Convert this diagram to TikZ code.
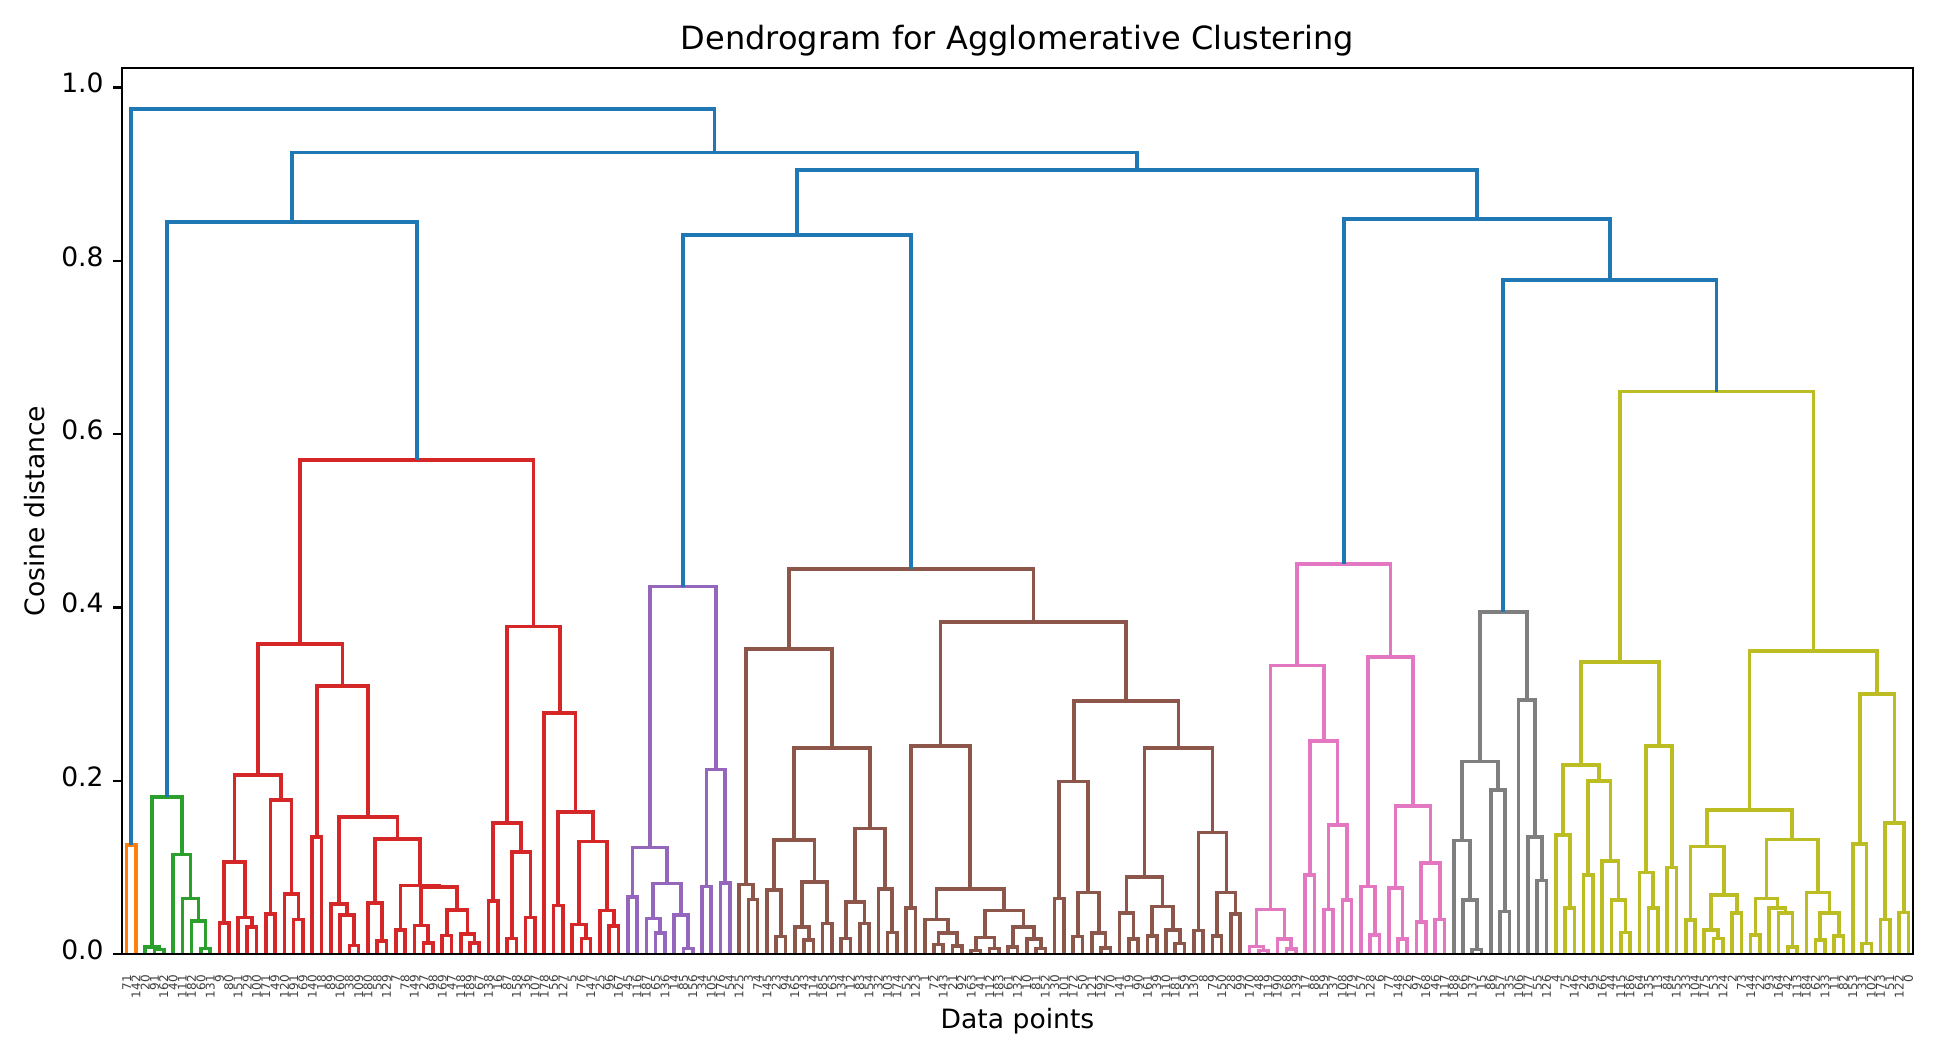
\documentclass[tikz,border=0pt]{standalone}
\usepackage{fontspec}
\setmainfont{DejaVu Sans}
\usepackage{tikz}
\definecolor{c0}{HTML}{1F77B4}
\definecolor{c1}{HTML}{FF7F0E}
\definecolor{c2}{HTML}{2CA02C}
\definecolor{c3}{HTML}{D62728}
\definecolor{c4}{HTML}{9467BD}
\definecolor{c5}{HTML}{8C564B}
\definecolor{c6}{HTML}{E377C2}
\definecolor{c7}{HTML}{7F7F7F}
\definecolor{c8}{HTML}{BCBD22}

% stack of open subtrees: x position (leaf units) and height
\newcount\stk
\newcount\nleaf
\newcommand\Lf{%
  \global\advance\nleaf by 1
  \global\advance\stk by 1
  \pgfmathsetmacro\tmpx{\the\nleaf-0.5}%
  \expandafter\xdef\csname dx\the\stk\endcsname{\tmpx}%
  \expandafter\xdef\csname dh\the\stk\endcsname{0}}
\newcommand\Mg[1]{%
  \edef\dxa{\csname dx\the\numexpr\stk-1\relax\endcsname}%
  \edef\dha{\csname dh\the\numexpr\stk-1\relax\endcsname}%
  \edef\dxb{\csname dx\the\stk\endcsname}%
  \edef\dhb{\csname dh\the\stk\endcsname}%
  \draw[link, color=\cc] (\dxa,\dha) |- (\dxb,#1) -- (\dxb,\dhb);
  \pgfmathsetmacro\tmpx{(\dxa+\dxb)/2}%
  \global\advance\stk by -1
  \expandafter\xdef\csname dx\the\stk\endcsname{\tmpx}%
  \expandafter\xdef\csname dh\the\stk\endcsname{#1}}

\begin{document}
\begin{tikzpicture}[x=0.5pt, y=0.5pt,
    link/.style={line width=1.8pt, line join=miter},
    spine/.style={line width=1.1pt, black},
    ticklab/.style={font=\fontsize{13.3}{16}\selectfont, anchor=mid east, inner sep=0pt},
    leaflab/.style={font=\fontsize{6}{7}\selectfont, rotate=90, anchor=east, inner sep=0pt, black!75}
]
    \fill[white] (0,0) rectangle (1948,1040);
    \useasboundingbox (0,0) rectangle (1948,1040);

    \begin{scope}[xshift=61pt, yshift=43pt, x=4.64pt, y=433.25pt]
    % orange
    \def\cc{c1}
    \Lf\Lf\Mg{.126}
    % green
    \def\cc{c2}
    \Lf \Lf\Lf\Mg{.005}\Mg{.008}
    \Lf \Lf \Lf \Lf\Lf\Mg{.0065}\Mg{.038}\Mg{.064}\Mg{.115}
    \Mg{.1815}
    % red
    \def\cc{c3}
    \Lf\Lf\Mg{.036} \Lf\Lf\Lf\Mg{.031}\Mg{.042} \Mg{.1065}
    \Lf\Lf\Mg{.046} \Lf\Lf\Lf\Mg{.04}\Mg{.069} \Mg{.178}
    \Mg{.2065}
    \Lf\Lf\Mg{.135}
    \Lf\Lf\Lf\Lf\Mg{.01}\Mg{.045}\Mg{.058}
    \Lf\Lf\Lf\Mg{.015}\Mg{.059}
    \Lf\Lf\Mg{.028} \Lf\Lf\Lf\Mg{.013}\Mg{.033} \Lf\Lf\Mg{.0215} \Lf\Lf\Lf\Mg{.013}\Mg{.023} \Mg{.051} \Mg{.077} \Mg{.079}
    \Mg{.133} \Mg{.158} \Mg{.309} \Mg{.358}
    \Lf\Lf\Mg{.061} \Lf\Lf\Mg{.018} \Lf\Lf\Mg{.042} \Mg{.118} \Mg{.151}
    \Lf
    \Lf\Lf\Mg{.056} \Lf\Lf\Lf\Mg{.018}\Mg{.034} \Lf\Lf\Lf\Mg{.032}\Mg{.05} \Mg{.13} \Mg{.164}
    \Mg{.278} \Mg{.378}
    \Mg{.57}
    \def\cc{c0}
    \Mg{.845}
    % purple
    \def\cc{c4}
    \Lf\Lf\Mg{.066} \Lf\Lf\Lf\Mg{.024}\Mg{.041} \Lf\Lf\Lf\Mg{.0065}\Mg{.045} \Mg{.0815} \Mg{.123}
    \Lf\Lf\Mg{.078} \Lf\Lf\Mg{.082} \Mg{.213}
    \Mg{.424}
    % brown
    \def\cc{c5}
    \Lf\Lf\Lf\Mg{.063}\Mg{.08}
    \Lf\Lf\Lf\Mg{.02}\Mg{.074} \Lf\Lf\Lf\Mg{.016}\Mg{.0315} \Lf\Lf\Mg{.035} \Mg{.083} \Mg{.1315}
    \Lf\Lf\Mg{.018} \Lf\Lf\Mg{.035} \Mg{.06} \Lf\Lf\Lf\Mg{.025}\Mg{.075} \Mg{.145}
    \Mg{.238} \Mg{.352}
    \Lf\Lf\Mg{.053}
    \Lf \Lf\Lf\Mg{.011} \Lf\Lf\Mg{.009} \Mg{.024} \Mg{.04}
    \Lf\Lf\Mg{.004} \Lf\Lf\Mg{.0065} \Mg{.019} \Lf\Lf\Mg{.008} \Lf\Lf\Lf\Mg{.0065}\Mg{.017} \Mg{.031} \Mg{.05}
    \Mg{.075} \Mg{.24}
    \Lf\Lf\Mg{.064} \Lf\Lf\Mg{.02} \Lf\Lf\Lf\Mg{.007}\Mg{.024} \Mg{.071} \Mg{.199}
    \Lf\Lf\Lf\Mg{.017}\Mg{.047} \Lf\Lf\Mg{.021} \Lf\Lf\Lf\Mg{.012}\Mg{.028} \Mg{.055} \Mg{.089}
    \Lf\Lf\Mg{.027} \Lf\Lf\Mg{.021} \Lf\Lf\Mg{.046} \Mg{.071} \Mg{.14}
    \Mg{.238} \Mg{.292} \Mg{.383}
    \Mg{.444}
    \def\cc{c0}
    \Mg{.83}
    % pink
    \def\cc{c6}
    \Lf\Lf\Lf\Mg{.004}\Mg{.0085} \Lf\Lf\Lf\Mg{.006}\Mg{.017} \Mg{.0515}
    \Lf\Lf\Mg{.091} \Lf\Lf\Mg{.0515} \Lf\Lf\Mg{.062} \Mg{.149} \Mg{.246}
    \Mg{.333}
    \Lf\Lf\Lf\Mg{.022}\Mg{.078}
    \Lf\Lf\Lf\Mg{.017}\Mg{.076} \Lf\Lf\Mg{.037} \Lf\Lf\Mg{.04} \Mg{.105} \Mg{.171}
    \Mg{.343}
    \Mg{.45}
    % gray
    \def\cc{c7}
    \Lf\Lf\Lf\Lf\Mg{.005}\Mg{.062}\Mg{.131} \Lf\Lf\Lf\Mg{.049}\Mg{.189} \Mg{.222}
    \Lf\Lf\Lf\Lf\Mg{.085}\Mg{.135}\Mg{.293}
    \Mg{.395}
    % olive
    \def\cc{c8}
    \Lf\Lf\Lf\Mg{.053}\Mg{.137} \Lf\Lf\Mg{.091} \Lf\Lf\Lf\Lf\Mg{.025}\Mg{.062}\Mg{.107} \Mg{.2} \Mg{.218}
    \Lf\Lf\Lf\Mg{.053}\Mg{.094} \Lf\Lf\Mg{.1} \Mg{.24}
    \Mg{.337}
    \Lf\Lf\Mg{.039} \Lf\Lf\Lf\Mg{.018}\Mg{.028} \Lf\Lf\Mg{.047} \Mg{.068} \Mg{.124}
    \Lf\Lf\Mg{.022} \Lf\Lf\Lf\Lf\Mg{.008}\Mg{.047}\Mg{.053} \Mg{.064}
    \Lf\Lf\Lf\Mg{.016}\Lf\Lf\Mg{.021}\Mg{.047}\Mg{.071}
    \Mg{.132} \Mg{.166}
    \Lf\Lf\Lf\Mg{.012}\Mg{.127} \Lf\Lf\Mg{.04} \Lf\Lf\Mg{.048} \Mg{.151} \Mg{.3}
    \Mg{.35}
    \Mg{.649}
    % links above the colour threshold
    \def\cc{c0}
    \Mg{.778} \Mg{.848} \Mg{.905} \Mg{.925} \Mg{.975}

    \foreach \i in {1,...,193} {
        \pgfmathtruncatemacro\lab{mod(\i*71,193)}
        \node[leaflab] (leaf\i) at (\i-0.5,-0.024) {\lab};
    }
    \end{scope}

    % axes
    \draw[spine] (122,86) rectangle (1913,972);
    \foreach \v [count=\k] in {0.0,0.2,0.4,0.6,0.8,1.0} {
        \draw[spine] (113,86+866.5*\v) -- (122,86+866.5*\v);
        \node[ticklab] (ytick\k) at (104,86+866.5*\v) {\v};
    }
    \node[rotate=90, font=\fontsize{13.3}{16}\selectfont] (ylab) at (35,529) {Cosine distance};
    \node[font=\fontsize{13.3}{16}\selectfont, anchor=base] (xlab) at (1017.5,12) {Data points};
    \node[font=\fontsize{16}{19}\selectfont, anchor=base] (title) at (1017.5,990) {Dendrogram for Agglomerative Clustering};
\end{tikzpicture}
\end{document}
